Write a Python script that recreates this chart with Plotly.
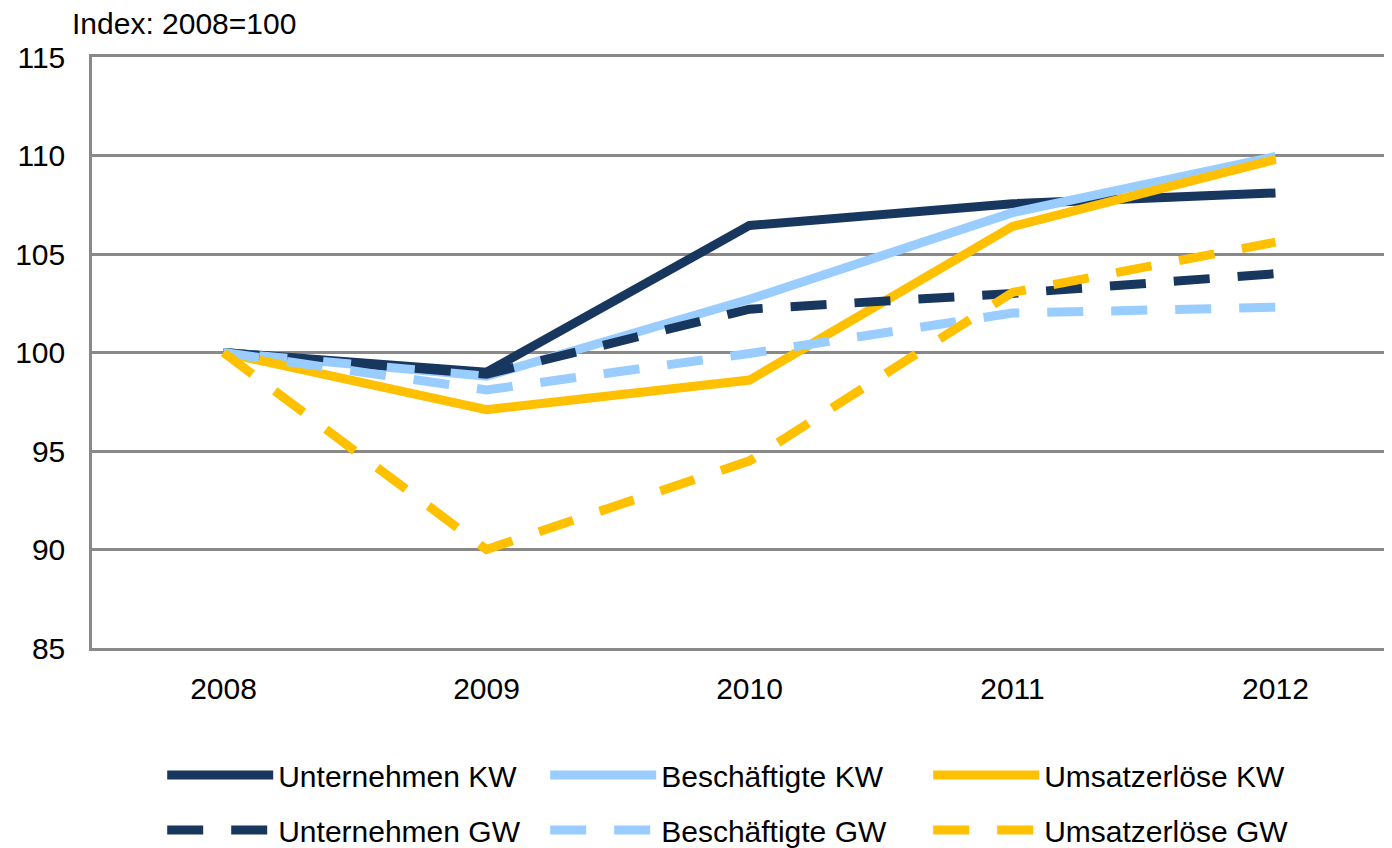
import plotly.graph_objects as go

years = ["2008", "2009", "2010", "2011", "2012"]
unternehmen_kw = [100.0, 99.0, 106.45, 107.55, 108.1]
beschaeftigte_kw = [100.0, 98.8, 102.7, 107.1, 109.95]
umsatz_kw = [100.0, 97.1, 98.6, 106.4, 109.8]
unternehmen_gw = [100.0, 98.9, 102.2, 103.0, 104.0]
beschaeftigte_gw = [100.0, 98.1, 99.95, 102.0, 102.3]
umsatz_gw = [100.0, 90.0, 94.5, 103.05, 105.6]

y_ticks = [85, 90, 95, 100, 105, 110, 115]

NAVY = "#17375E"
LIGHT = "#99CCFF"
GOLD = "#FFC000"
GRID = "#898989"
FONT = "Liberation Sans, Arial, sans-serif"
DASH = "36px,28px"

series = [
    ("Unternehmen KW", unternehmen_kw, NAVY, "solid", "legend"),
    ("Beschäftigte KW", beschaeftigte_kw, LIGHT, "solid", "legend"),
    ("Umsatzerlöse KW", umsatz_kw, GOLD, "solid", "legend"),
    ("Unternehmen GW", unternehmen_gw, NAVY, DASH, "legend2"),
    ("Beschäftigte GW", beschaeftigte_gw, LIGHT, DASH, "legend2"),
    ("Umsatzerlöse GW", umsatz_gw, GOLD, DASH, "legend2"),
]

fig = go.Figure()
for name, vals, color, dash, leg in series:
    fig.add_trace(go.Scatter(
        x=years, y=vals, mode="lines", name=name, legend=leg,
        line=dict(color=color, width=9, dash=dash),
    ))

legend_common = dict(
    orientation="h", xanchor="left", yanchor="middle",
    entrywidth=262, entrywidthmode="pixels", itemwidth=106,
    font=dict(family=FONT, size=30, color="#000000"),
    bgcolor="rgba(0,0,0,0)", traceorder="normal",
)

fig.update_layout(
    width=1384, height=840,
    margin=dict(l=84, r=0, t=49, b=200, autoexpand=False),
    paper_bgcolor="white", plot_bgcolor="white",
    font=dict(family=FONT, size=30, color="#000000"),
    showlegend=True,
    legend=dict(x=0.054, y=-0.215, **legend_common),
    legend2=dict(x=0.054, y=-0.308, **legend_common),
    xaxis=dict(
        type="category", range=[-0.5, 4.443],
        showgrid=False, showline=True, mirror=True,
        linecolor=GRID, linewidth=2.5, zeroline=False,
        ticks="", ticklabelstandoff=12, automargin=False,
        tickfont=dict(family=FONT, size=30),
    ),
    yaxis=dict(
        range=[85, 115], tickvals=y_ticks,
        showgrid=True, gridcolor=GRID, gridwidth=2.5,
        showline=True, linecolor=GRID, linewidth=2.5,
        zeroline=False, ticks="", ticklabelstandoff=18, automargin=False,
        tickfont=dict(family=FONT, size=30),
    ),
    annotations=[dict(
        text="Index: 2008=100", xref="paper", yref="paper",
        x=-0.017, y=1.0, xanchor="left", yanchor="bottom", yshift=15,
        showarrow=False, font=dict(family=FONT, size=30),
    )],
)

fig.write_html("out.html")
